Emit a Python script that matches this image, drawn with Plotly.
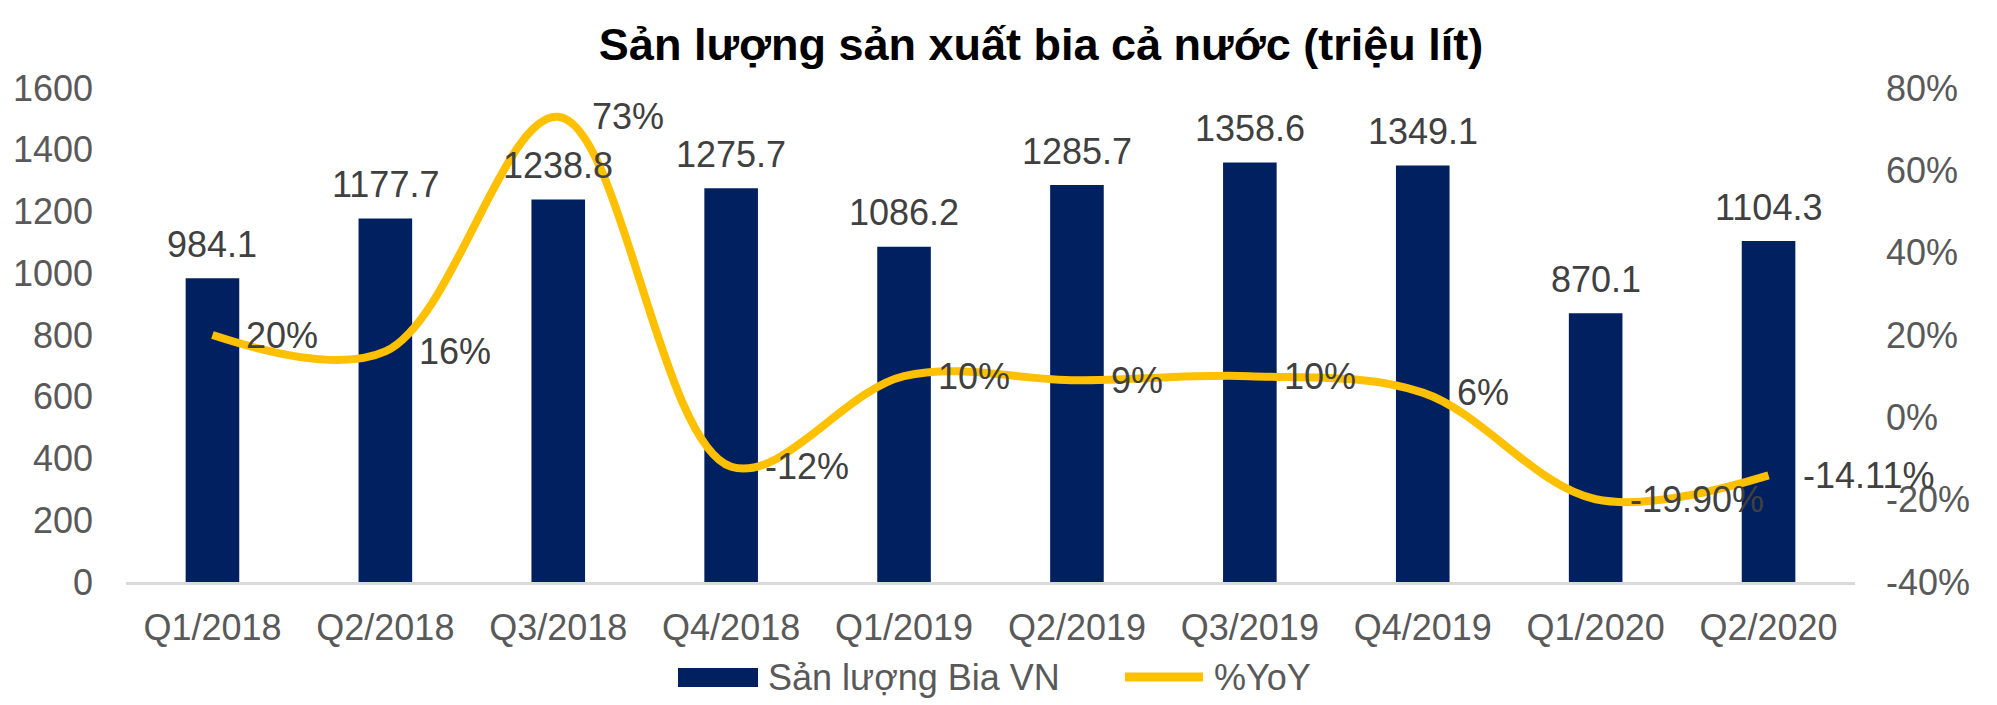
import plotly.graph_objects as go

# ---- data ----
quarters = ["Q1/2018", "Q2/2018", "Q3/2018", "Q4/2018", "Q1/2019",
            "Q2/2019", "Q3/2019", "Q4/2019", "Q1/2020", "Q2/2020"]
beer_output = [984.1, 1177.7, 1238.8, 1275.7, 1086.2,
               1285.7, 1358.6, 1349.1, 870.1, 1104.3]
yoy_growth = [0.20, 0.16, 0.73, -0.12, 0.10, 0.09, 0.10, 0.06, -0.199, -0.1411]
yoy_labels = ["20%", "16%", "73%", "-12%", "10%", "9%", "10%", "6%", "-19.90%", "-14.11%"]
left_ticks = [0, 200, 400, 600, 800, 1000, 1200, 1400, 1600]
right_ticks = [-0.4, -0.2, 0.0, 0.2, 0.4, 0.6, 0.8]
right_tick_text = [f"{round(v * 100)}%" for v in right_ticks]
title_text = "Sản lượng sản xuất bia cả nước (triệu lít)"
bar_name = "Sản lượng Bia VN"
line_name = "%YoY"

# ---- style ----
FONT = "Liberation Sans, Arial, sans-serif"
BAR_COLOR = "#002060"
LINE_COLOR = "#FFC000"
TICK_COLOR = "#595959"
LABEL_COLOR = "#404040"
W, H = 1997, 705
ML, MR, MT, MB = 126, 142, 88, 123
FS = 36
PW, PH = W - ML - MR, H - MT - MB


def px_x(x):
    return (x - ML) / PW


def px_y(y):
    return (H - MB - y) / PH


fig = go.Figure()
fig.add_trace(go.Bar(
    x=quarters, y=beer_output, name=bar_name,
    marker=dict(color=BAR_COLOR, line=dict(width=0)),
    width=0.31, showlegend=False, yaxis="y",
))
fig.add_trace(go.Scatter(
    x=quarters, y=yoy_growth, name=line_name, mode="lines",
    line=dict(color=LINE_COLOR, width=8, shape="spline", smoothing=1.0),
    showlegend=False, yaxis="y2",
))

annotations = []
for q, v in zip(quarters, beer_output):
    annotations.append(dict(
        x=q, y=v, xref="x", yref="y", text=f"{v:.1f}", showarrow=False,
        xanchor="center", yanchor="middle", yshift=34,
        font=dict(family=FONT, size=FS, color=LABEL_COLOR),
    ))
for q, v, t in zip(quarters, yoy_growth, yoy_labels):
    annotations.append(dict(
        x=q, y=v, xref="x", yref="y2", text=t, showarrow=False,
        xanchor="left", yanchor="middle", xshift=32,
        font=dict(family=FONT, size=FS, color=LABEL_COLOR),
    ))

# custom legend (swatches + labels)
shapes = [
    dict(type="rect", xref="paper", yref="paper",
         x0=px_x(678), x1=px_x(758), y0=px_y(668), y1=px_y(687),
         fillcolor=BAR_COLOR, line=dict(width=0)),
    dict(type="line", xref="paper", yref="paper",
         x0=px_x(1125), x1=px_x(1203), y0=px_y(677), y1=px_y(677),
         line=dict(color=LINE_COLOR, width=9)),
]
annotations.append(dict(
    xref="paper", yref="paper", x=px_x(766), y=px_y(677), text=bar_name,
    showarrow=False, xanchor="left", yanchor="middle",
    font=dict(family=FONT, size=FS, color=TICK_COLOR)))
annotations.append(dict(
    xref="paper", yref="paper", x=px_x(1212), y=px_y(677), text=line_name,
    showarrow=False, xanchor="left", yanchor="middle",
    font=dict(family=FONT, size=FS, color=TICK_COLOR)))

fig.update_layout(
    width=W, height=H,
    margin=dict(l=ML, r=MR, t=MT, b=MB, autoexpand=False),
    paper_bgcolor="white", plot_bgcolor="white",
    title=dict(text=f"<b>{title_text}</b>", x=1041 / W, xanchor="center",
               xref="container", yref="container", y=1 - 44 / H, yanchor="middle",
               font=dict(family=FONT, size=45, color="black")),
    xaxis=dict(
        type="category", range=[-0.5, len(quarters) - 0.5],
        showgrid=False, zeroline=False, automargin=False,
        showline=True, linecolor="#D9D9D9", linewidth=2.5,
        ticks="", ticklabelstandoff=12,
        tickfont=dict(family=FONT, size=FS, color=TICK_COLOR),
    ),
    yaxis=dict(
        range=[0, 1600], tickvals=left_ticks, showgrid=False, zeroline=False,
        showline=False, ticks="", ticklabelstandoff=32, automargin=False,
        tickfont=dict(family=FONT, size=FS, color=TICK_COLOR),
    ),
    yaxis2=dict(
        range=[-0.4, 0.8], tickvals=right_ticks, ticktext=right_tick_text,
        overlaying="y", side="right", showgrid=False, zeroline=False,
        showline=False, ticks="", ticklabelstandoff=30, automargin=False,
        tickfont=dict(family=FONT, size=FS, color=TICK_COLOR),
    ),
    bargap=0.69,
    annotations=annotations, shapes=shapes,
    showlegend=False,
)

fig.write_html("out.html")
